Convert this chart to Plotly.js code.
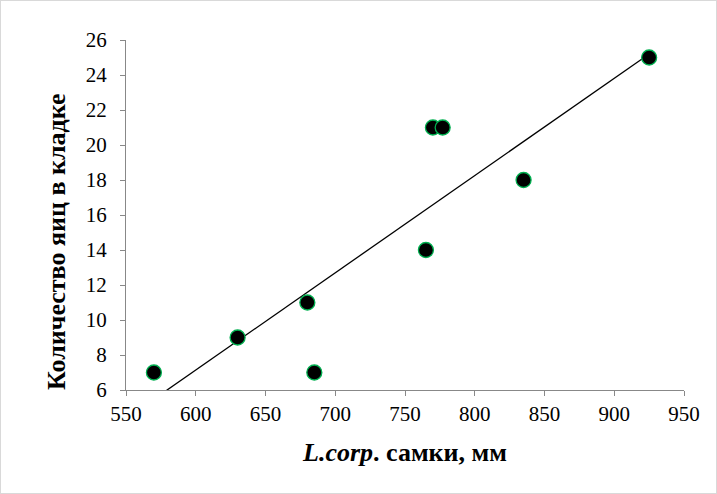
<!DOCTYPE html>
<html><head><meta charset="utf-8">
<script src="https://cdn.plot.ly/plotly-3.0.1.min.js"></script>
<style>html,body{margin:0;padding:0;background:#fff}#chart{width:715px;height:492px;border:1px solid #d9d9d9}</style>
</head><body><div id="chart"></div>
<script>
const lengthMm = [570, 630, 680, 685, 765, 770, 777, 835, 925];
const eggs = [7, 9, 11, 7, 14, 21, 21, 18, 25];
const xTicks = [550, 600, 650, 700, 750, 800, 850, 900, 950];
const yTicks = [6, 8, 10, 12, 14, 16, 18, 20, 22, 24, 26];

// linear least-squares trendline
const n = lengthMm.length;
const mx = lengthMm.reduce((a,b)=>a+b,0)/n;
const my = eggs.reduce((a,b)=>a+b,0)/n;
let sxy=0, sxx=0;
for (let i=0;i<n;i++){sxy+=(lengthMm[i]-mx)*(eggs[i]-my);sxx+=(lengthMm[i]-mx)**2;}
const slope = sxy/sxx, icpt = my - slope*mx;
const tx = [Math.min(...lengthMm), Math.max(...lengthMm)];
const ty = tx.map(v=>icpt+slope*v);

const font = "Liberation Serif";
Plotly.newPlot('chart', [
  {x: tx, y: ty, mode:'lines', line:{color:'#000', width:1.3}, hoverinfo:'skip'},
  {x: lengthMm, y: eggs, mode:'markers', cliponaxis:false,
   marker:{size:15, color:'#000', line:{color:'#00b050', width:1.3}}}
], {
  width:715, height:492, showlegend:false,
  paper_bgcolor:'#fff', plot_bgcolor:'#fff',
  margin:{l:125, r:32, t:39, b:103},
  font:{family:font, color:'#000', size:21},
  xaxis:{range:[550,950], tickvals:xTicks, showgrid:false, zeroline:false,
    showline:true, linecolor:'#888', linewidth:1, ticks:'outside', ticklen:5, tickcolor:'#888',
    tickfont:{size:21, family:font, color:'#000'},
    title:{text:'<b><i>L.corp</i>. самки, мм</b>', font:{size:26, family:font, color:'#000'}, standoff:17}},
  yaxis:{range:[6,26], tickvals:yTicks, showgrid:false, zeroline:false,
    showline:true, linecolor:'#888', linewidth:1, ticks:'outside', ticklen:5, tickcolor:'#888',
    tickfont:{size:21, family:font, color:'#000'}, ticklabelstandoff:9},
  annotations:[{text:'<b>Количество яиц в кладке</b>', textangle:-90, showarrow:false,
    xref:'paper', yref:'paper', x:0, y:0.5, xanchor:'center', yanchor:'middle',
    xshift:-70, yshift:-27, font:{size:26, family:font, color:'#000'}}]
}, {displayModeBar:false, staticPlot:true});
</script></body></html>
